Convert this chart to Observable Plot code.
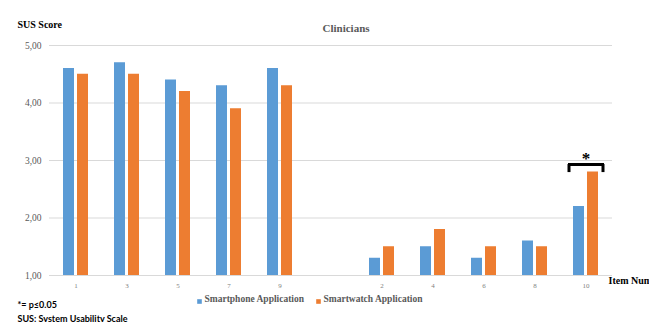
<!DOCTYPE html>
<html>
<head>
<meta charset="utf-8">
<script src="https://cdn.jsdelivr.net/npm/d3@7"></script>
<script src="https://cdn.jsdelivr.net/npm/@observablehq/plot@0.6"></script>
<style>
  body { margin: 0; background: #fff; overflow: hidden; }
  #chart { width: 649px; height: 322px; overflow: hidden; }
  #chart svg text { font-family: "Liberation Serif", "Times New Roman", serif !important; }
  #chart [aria-label^="y-axis"] text { font-size: 9.5px !important; fill: #595959; }
  #chart [aria-label^="x-axis"] text { font-size: 7px !important; fill: #7f7f7f; }
</style>
</head>
<body>
<div id="chart"></div>
<script>
// Item order along the axis: odd (positive) items, a blank slot, then even (negative) items
const itemOrder = ["1", "3", "5", "7", "9", "sep", "2", "4", "6", "8", "10"];
const items = ["1", "3", "5", "7", "9", "2", "4", "6", "8", "10"];
const smartphone = [4.6, 4.7, 4.4, 4.3, 4.6, 1.3, 1.5, 1.3, 1.6, 2.2];
const smartwatch = [4.5, 4.5, 4.2, 3.9, 4.3, 1.5, 1.8, 1.5, 1.5, 2.8];
const seriesNames = ["Smartphone Application", "Smartwatch Application"];
const seriesColors = ["#5B9BD5", "#ED7D31"];
const yTicks = [1, 2, 3, 4, 5];
const significantItems = ["10"];
const footnotes = ["*= p\u22640.05", "SUS: System Usability Scale"];

const phoneRows = items.map((item, i) => ({item, series: seriesNames[0], value: smartphone[i]}));
const watchRows = items.map((item, i) => ({item, series: seriesNames[1], value: smartwatch[i]}));
const peak = item => Math.max(smartphone[items.indexOf(item)], smartwatch[items.indexOf(item)]);

const grey = "#595959";

const chart = Plot.plot({
  width: 649,
  height: 322,
  marginTop: 45,
  marginBottom: 47,
  marginLeft: 49,
  marginRight: 37,
  style: {background: "white", color: grey},
  x: {domain: itemOrder, padding: 0, tickSize: 0, tickPadding: 8, label: null,
      tickFormat: d => d === "sep" ? "" : d},
  y: {domain: [1, 5], ticks: yTicks, tickSize: 0, tickPadding: 8, label: null,
      tickFormat: d => d.toFixed(2).replace(".", ",")},
  color: {domain: seriesNames, range: seriesColors},
  marks: [
    Plot.ruleY(yTicks, {stroke: "#d9d9d9", strokeWidth: 1}),
    Plot.barY(phoneRows, {x: "item", y1: 1, y2: "value", fill: "series", insetLeft: 13, insetRight: 27}),
    Plot.barY(watchRows, {x: "item", y1: 1, y2: "value", fill: "series", insetLeft: 27, insetRight: 13}),
    // significance bracket over item 10
    Plot.tickY(significantItems, {x: d => d, y: d => peak(d) + 0.13, stroke: "black", strokeWidth: 3,
      insetLeft: 8, insetRight: 7}),
    Plot.ruleX(significantItems, {x: d => d, y1: d => peak(d) - 0.01, y2: d => peak(d) + 0.13,
      dx: -17, stroke: "black", strokeWidth: 3}),
    Plot.ruleX(significantItems, {x: d => d, y1: d => peak(d) - 0.01, y2: d => peak(d) + 0.13,
      dx: 17, stroke: "black", strokeWidth: 3}),
    Plot.text(significantItems, {x: d => d, y: d => peak(d) + 0.13, text: () => "*", dy: -6,
      fontSize: 17, fontWeight: "bold", fill: "black"}),
    // titles
    Plot.text(["Clinicians"], {frameAnchor: "top", dx: 15, dy: -21, fontSize: 11, fontWeight: "bold", fill: grey}),
    Plot.text(["SUS Score"], {frameAnchor: "top-left", textAnchor: "start", dx: -32, dy: -25,
      fontSize: 10, fontWeight: "bold", fill: "black"}),
    Plot.text(["Item Number"], {frameAnchor: "bottom-right", textAnchor: "start", dx: -4, dy: 8,
      fontSize: 10, fontWeight: "bold", fill: "black"}),
    // legend
    Plot.dot([seriesNames[0]], {frameAnchor: "bottom-left", dx: 150, dy: 26, symbol: "square", r: 2.6, fill: d => d}),
    Plot.text([seriesNames[0]], {frameAnchor: "bottom-left", textAnchor: "start", dx: 155, dy: 26,
      fontSize: 9.5, fontWeight: "bold", fill: grey, letterSpacing: "0.35px"}),
    Plot.dot([seriesNames[1]], {frameAnchor: "bottom-left", dx: 269, dy: 26, symbol: "square", r: 2.6, fill: d => d}),
    Plot.text([seriesNames[1]], {frameAnchor: "bottom-left", textAnchor: "start", dx: 274, dy: 26,
      fontSize: 9.5, fontWeight: "bold", fill: grey, letterSpacing: "0.35px"}),
    // footnotes
    Plot.text([footnotes[0]], {frameAnchor: "bottom-left", textAnchor: "start", dx: -32, dy: 32,
      fontSize: 9, fontWeight: "bold", fill: "black"}),
    Plot.text([footnotes[1]], {frameAnchor: "bottom-left", textAnchor: "start", dx: -32, dy: 46,
      fontSize: 9, fontWeight: "bold", fill: "black"})
  ]
});

// footnotes use a sans-serif face
d3.select(chart).selectAll("text")
  .filter(function() { return footnotes.includes(this.textContent); })
  .attr("style", "font-family: Lato, 'Open Sans', sans-serif !important");

document.getElementById("chart").append(chart);
</script>
</body>
</html>
